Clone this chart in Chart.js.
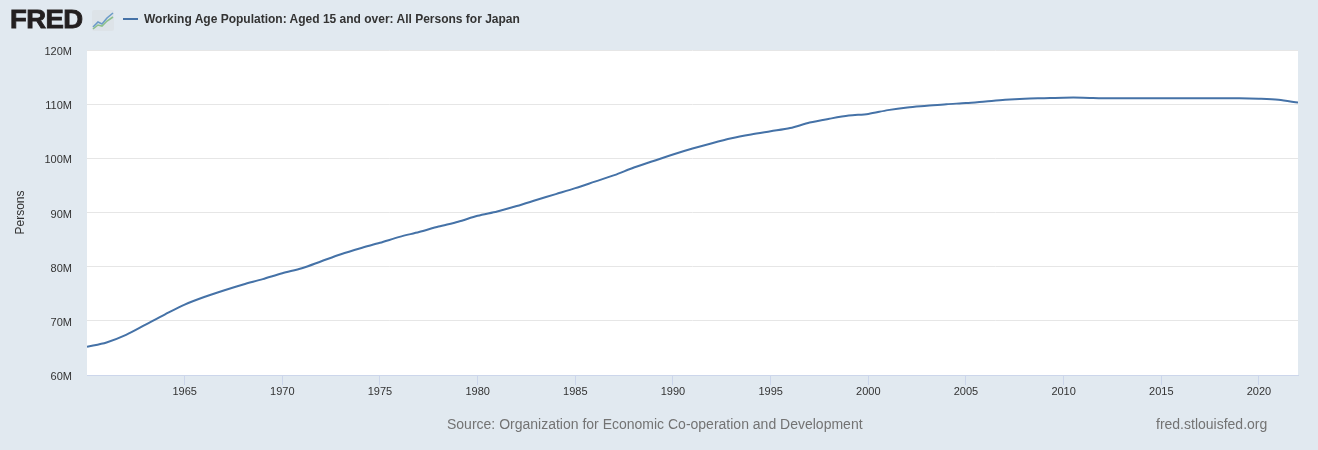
<!DOCTYPE html>
<html lang="en">
<head>
    <meta charset="UTF-8">
    <title>Working Age Population: Aged 15 and over: All Persons for Japan</title>
    <style>
        body {
            margin: 0;
            background-color: #e1e9f0;
            font-family: "Liberation Sans", Arial, sans-serif;
        }

        .wrap {
            position: relative;
            width: 1318px;
            height: 450px;
        }

        /* header: logo + legend */
        .logo {
            position: absolute;
            left: 10px;
            top: 5px;
            font-size: 25px;
            font-weight: 900;
            color: #231f20;
            -webkit-text-stroke: 0.8px #231f20;
            letter-spacing: -0.5px;
            transform: scaleX(1.1);
            transform-origin: left top;
        }
        .logo-icon {
            position: absolute;
            left: 92px;
            top: 10px;
        }
        .legend {
            position: absolute;
            left: 123px;
            top: 12px;
            font-size: 12px;
            font-weight: bold;
            color: #333;
            white-space: nowrap;
        }
        .legend .swatch {
            display: inline-block;
            width: 15px;
            height: 2px;
            background: #4572a7;
            vertical-align: middle;
            margin-right: 6px;
            margin-top: -2px;
        }

        /* footer */
        .source, .site {
            position: absolute;
            top: 416px;
            font-size: 14px;
            color: #737373;
            white-space: nowrap;
        }
        .source { left: 447px; }
        .site { left: 1156px; }

        canvas {
            position: absolute;
            left: 0;
            top: 0;
        }
    </style>
</head>
<body>

<div class="wrap">
    <canvas id="grafico" width="1318" height="450"></canvas>
    <div class="logo">FRED</div>
    <svg class="logo-icon" width="22" height="21" viewBox="0 0 22 21">
        <rect x="0" y="0" width="22" height="21" rx="2" fill="#dde3e8"/>
        <polyline points="1,17 6,12 10,14 15,8 21,3" fill="none" stroke="#6b9bc8" stroke-width="1.6"/>
        <polyline points="1,19 6,15 10,16 15,11 21,7" fill="none" stroke="#8cc08c" stroke-width="1.6"/>
    </svg>
    <div class="legend"><span class="swatch"></span>Working Age Population: Aged 15 and over: All Persons for Japan</div>
    <div class="source">Source: Organization for Economic Co-operation and Development</div>
    <div class="site">fred.stlouisfed.org</div>
</div>

<script src="https://cdn.jsdelivr.net/npm/chart.js"></script>
<script>
    // anos (observações anuais)
    const anos = [
        1960, 1961, 1962, 1963, 1964, 1965, 1966, 1967, 1968, 1969,
        1970, 1971, 1972, 1973, 1974, 1975, 1976, 1977, 1978, 1979,
        1980, 1981, 1982, 1983, 1984, 1985, 1986, 1987, 1988, 1989,
        1990, 1991, 1992, 1993, 1994, 1995, 1996, 1997, 1998, 1999,
        2000, 2001, 2002, 2003, 2004, 2005, 2006, 2007, 2008, 2009,
        2010, 2011, 2012, 2013, 2014, 2015, 2016, 2017, 2018, 2019,
        2020, 2021, 2022
    ];

    // população 15+ em milhões de pessoas
    const populacaoMilhoes = [
        65.2, 66.0, 67.4, 69.3, 71.2, 73.0, 74.4, 75.6, 76.7, 77.7,
        78.8, 79.7, 81.0, 82.3, 83.4, 84.4, 85.5, 86.4, 87.4, 88.3,
        89.4, 90.2, 91.2, 92.3, 93.4, 94.5, 95.7, 96.9, 98.3, 99.5,
        100.7, 101.8, 102.8, 103.7, 104.4, 105.0, 105.6, 106.6, 107.3, 107.9,
        108.2, 108.9, 109.4, 109.7, 110.0, 110.2, 110.5, 110.8, 111.0, 111.1,
        111.2, 111.2, 111.1, 111.1, 111.1, 111.1, 111.1, 111.1, 111.1, 111.1,
        111.0, 110.8, 110.3
    ];

    const anosTicks = [1965, 1970, 1975, 1980, 1985, 1990, 1995, 2000, 2005, 2010, 2015, 2020];
    const yTicks = [60e6, 70e6, 80e6, 90e6, 100e6, 110e6, 120e6];

    // fundo branco só na área do gráfico
    const fundoBranco = {
        id: 'fundoBranco',
        beforeDraw(chart) {
            const a = chart.chartArea;
            const ctx = chart.ctx;
            ctx.save();
            ctx.fillStyle = '#ffffff';
            ctx.fillRect(a.left, a.top, a.right - a.left, a.bottom - a.top);
            ctx.restore();
        }
    };

    const pontos = anos.map((ano, i) => ({ x: ano, y: populacaoMilhoes[i] * 1e6 }));

    new Chart(document.getElementById('grafico').getContext('2d'), {
        type: 'line',
        data: {
            datasets: [{
                label: 'Working Age Population: Aged 15 and over: All Persons for Japan',
                data: pontos,
                borderColor: '#4572a7',
                borderWidth: 2,
                pointRadius: 0,
                tension: 0.3,
                fill: false
            }]
        },
        options: {
            responsive: false,
            animation: false,
            layout: { padding: { left: 0, top: 50, right: 20, bottom: 0 } },
            plugins: {
                legend: { display: false },
                tooltip: { enabled: false }
            },
            scales: {
                x: {
                    type: 'linear',
                    min: 1960,
                    max: 2022,
                    afterBuildTicks: (scale) => {
                        scale.ticks = anosTicks.map(v => ({ value: v }));
                    },
                    afterFit: (scale) => { scale.height = 75; },
                    ticks: {
                        autoSkip: false,
                        maxRotation: 0,
                        padding: 0,
                        color: '#333',
                        font: { family: '"Liberation Sans", Arial, sans-serif', size: 11 },
                        callback: (v) => String(v)
                    },
                    grid: {
                        drawOnChartArea: false,
                        drawTicks: true,
                        tickLength: 10,
                        color: '#ccd6eb'
                    },
                    border: { display: true, color: '#ccd6eb' }
                },
                y: {
                    type: 'linear',
                    min: 60e6,
                    max: 120e6,
                    afterBuildTicks: (scale) => {
                        scale.ticks = yTicks.map(v => ({ value: v }));
                    },
                    afterFit: (scale) => { scale.width = 87; },
                    ticks: {
                        padding: 15,
                        labelOffset: 2,
                        color: '#333',
                        font: { family: '"Liberation Sans", Arial, sans-serif', size: 11 },
                        callback: (v) => (v / 1e6) + 'M'
                    },
                    grid: {
                        color: '#e6e6e6',
                        drawTicks: false
                    },
                    border: { display: false },
                    title: {
                        display: true,
                        text: 'Persons',
                        color: '#333',
                        font: { family: '"Liberation Sans", Arial, sans-serif', size: 12 },
                        padding: { top: 13, bottom: 0 }
                    }
                }
            }
        },
        plugins: [fundoBranco]
    });
</script>
</body>
</html>
